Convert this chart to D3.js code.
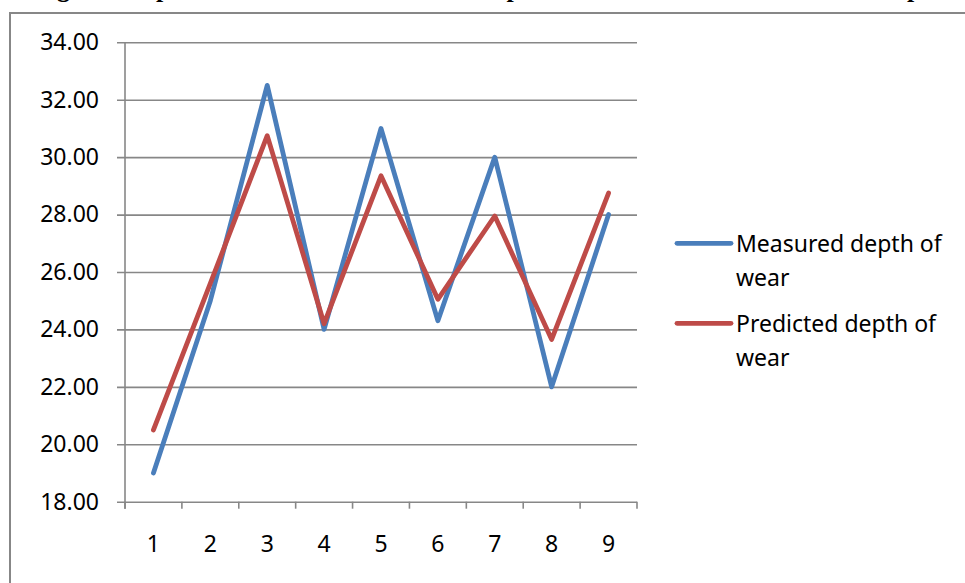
<!DOCTYPE html>
<html>
<head>
<meta charset="utf-8">
<script src="https://cdn.jsdelivr.net/npm/d3@7"></script>
<style>
  html, body { margin: 0; padding: 0; background: #fff; }
  svg { display: block; }
</style>
</head>
<body>
<svg id="chart" width="965" height="583"></svg>
<script>
// Sample numbers along the x axis
const categories = ["1", "2", "3", "4", "5", "6", "7", "8", "9"];
// Depth of wear for each sample
const measured  = [19.0, 25.0, 32.5, 24.0, 31.0, 24.3, 30.0, 22.0, 28.0];
const predicted = [20.5, 25.6, 30.75, 24.2, 29.35, 25.05, 27.95, 23.65, 28.75];
const seriesNames = ["Measured depth of wear", "Predicted depth of wear"];
const yTicks = [18, 20, 22, 24, 26, 28, 30, 32, 34];
const titleText = "Fig. 4 Comparison between measured and predicted values of the total wear depth";

const svg = d3.select("#chart");
const font = "'Noto Sans', 'Open Sans', sans-serif";
const gridColor = "#878787";
const colors = ["#4a7ebb", "#be4b48"];

// Caption sitting above the chart frame
svg.append("text")
  .attr("x", 34).attr("y", -3)
  .attr("font-family", "'Liberation Serif', 'Times New Roman', serif")
  .attr("font-weight", "bold")
  .attr("font-size", 26)
  .attr("fill", "#000")
  .text(titleText);

// Chart frame
svg.append("rect")
  .attr("x", 10).attr("y", 13)
  .attr("width", 1000).attr("height", 620)
  .attr("fill", "#fff")
  .attr("stroke", gridColor).attr("stroke-width", 2);

const plot = { left: 125, right: 637, top: 42.3, bottom: 501.7 };

const x = d3.scaleBand().domain(categories).range([plot.left, plot.right]).padding(0);
const y = d3.scaleLinear().domain([18, 34]).range([plot.bottom, plot.top]);

// Horizontal gridlines with y axis labels
const yAxis = d3.axisLeft(y)
  .tickValues(yTicks)
  .tickFormat(d3.format(".2f"))
  .tickSize(-(plot.right - plot.left))
  .tickPadding(26);
const gy = svg.append("g").attr("transform", `translate(${plot.left},0)`).call(yAxis);
gy.select(".domain").remove();
gy.selectAll(".tick line")
  .attr("x1", -8)
  .attr("stroke", gridColor).attr("stroke-width", 1.6);
gy.selectAll(".tick text")
  .attr("font-family", font).attr("font-size", 23).attr("fill", "#000");

// Vertical axis line
svg.append("line")
  .attr("x1", plot.left).attr("x2", plot.left)
  .attr("y1", plot.top).attr("y2", plot.bottom + 7)
  .attr("stroke", gridColor).attr("stroke-width", 1.6);

// X axis: ticks on the band edges, labels in the band centres
const edges = categories.map(c => x(c)).concat([plot.right]);
svg.append("g").selectAll("line").data(edges).join("line")
  .attr("x1", d => d).attr("x2", d => d)
  .attr("y1", plot.bottom).attr("y2", plot.bottom + 7)
  .attr("stroke", gridColor).attr("stroke-width", 1.6);
svg.append("g").selectAll("text").data(categories).join("text")
  .attr("x", d => x(d) + x.bandwidth() / 2)
  .attr("y", plot.bottom + 41)
  .attr("text-anchor", "middle")
  .attr("dominant-baseline", "central")
  .attr("font-family", font).attr("font-size", 23).attr("fill", "#000")
  .text(d => d);

// Series lines
const line = d3.line()
  .x((d, i) => x(categories[i]) + x.bandwidth() / 2)
  .y(d => y(d));
[measured, predicted].forEach((vals, k) => {
  svg.append("path")
    .datum(vals)
    .attr("d", line)
    .attr("fill", "none")
    .attr("stroke", colors[k])
    .attr("stroke-width", 4.8)
    .attr("stroke-linejoin", "round")
    .attr("stroke-linecap", "round");
});

// Legend, names wrapped onto two lines
const legend = svg.append("g");
seriesNames.forEach((name, k) => {
  const cy = 243.3 + k * 80;
  legend.append("line")
    .attr("x1", 677).attr("x2", 731)
    .attr("y1", cy).attr("y2", cy)
    .attr("stroke", colors[k]).attr("stroke-width", 4.8)
    .attr("stroke-linecap", "round");
  const words = name.split(" ");
  const t = legend.append("text")
    .attr("font-family", font).attr("font-size", 23).attr("fill", "#000");
  t.append("tspan").attr("x", 736).attr("y", cy).attr("dominant-baseline", "central")
    .text(words.slice(0, 3).join(" "));
  t.append("tspan").attr("x", 736).attr("y", cy + 33.5).attr("dominant-baseline", "central")
    .text(words.slice(3).join(" "));
});
</script>
</body>
</html>
